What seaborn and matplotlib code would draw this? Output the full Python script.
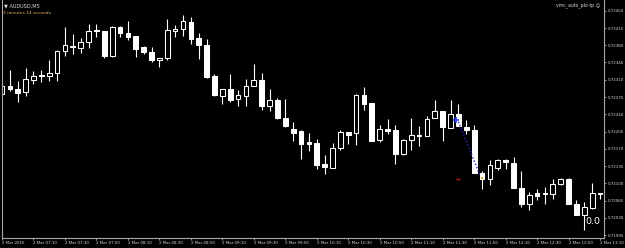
import matplotlib
matplotlib.use("Agg")
import matplotlib.pyplot as plt
import seaborn as sns
import numpy as np

# ---------------- data (AUDUSD, M5) ----------------
open_ = [0.72282, 0.72298, 0.72292, 0.72286, 0.72310, 0.72319, 0.72318, 0.72324, 0.72368, 0.72379,
         0.72374, 0.72388, 0.72411, 0.72409, 0.72359, 0.72418, 0.72405, 0.72399, 0.72376, 0.72367,
         0.72351, 0.72354, 0.72409, 0.72413, 0.72428, 0.72395, 0.72381, 0.72318, 0.72278, 0.72292,
         0.72271, 0.72278, 0.72298, 0.72310, 0.72258, 0.72269, 0.72233, 0.72211, 0.72206, 0.72184,
         0.72183, 0.72139, 0.72132, 0.72171, 0.72204, 0.72202, 0.72279, 0.72264, 0.72188, 0.72211,
         0.72208, 0.72159, 0.72188, 0.72197, 0.72197, 0.72233, 0.72248, 0.72213, 0.72240, 0.72215,
         0.72208, 0.72121, 0.72108, 0.72132, 0.72148, 0.72141, 0.72090, 0.72058, 0.72080, 0.72078,
         0.72078, 0.72098, 0.72109, 0.72058, 0.72036, 0.72051, 0.72080]

high = [0.72306, 0.72330, 0.72308, 0.72334, 0.72328, 0.72330, 0.72351, 0.72371, 0.72417, 0.72403,
        0.72396, 0.72423, 0.72423, 0.72410, 0.72420, 0.72420, 0.72430, 0.72399, 0.72378, 0.72376,
        0.72355, 0.72434, 0.72422, 0.72442, 0.72437, 0.72405, 0.72393, 0.72322, 0.72291, 0.72322,
        0.72290, 0.72311, 0.72342, 0.72324, 0.72291, 0.72273, 0.72271, 0.72225, 0.72208, 0.72202,
        0.72190, 0.72157, 0.72183, 0.72209, 0.72205, 0.72282, 0.72296, 0.72264, 0.72219, 0.72231,
        0.72219, 0.72190, 0.72232, 0.72217, 0.72237, 0.72269, 0.72248, 0.72269, 0.72261, 0.72228,
        0.72219, 0.72126, 0.72148, 0.72149, 0.72149, 0.72154, 0.72126, 0.72083, 0.72088, 0.72093,
        0.72109, 0.72112, 0.72110, 0.72066, 0.72063, 0.72100, 0.72081]

low = [0.72279, 0.72288, 0.72266, 0.72278, 0.72302, 0.72306, 0.72308, 0.72308, 0.72359, 0.72363,
       0.72365, 0.72374, 0.72398, 0.72355, 0.72357, 0.72397, 0.72391, 0.72357, 0.72363, 0.72347,
       0.72336, 0.72351, 0.72397, 0.72399, 0.72383, 0.72352, 0.72313, 0.72278, 0.72261, 0.72266,
       0.72257, 0.72258, 0.72297, 0.72249, 0.72247, 0.72231, 0.72215, 0.72187, 0.72149, 0.72166,
       0.72129, 0.72119, 0.72131, 0.72168, 0.72181, 0.72177, 0.72250, 0.72186, 0.72185, 0.72200,
       0.72139, 0.72158, 0.72168, 0.72176, 0.72196, 0.72232, 0.72187, 0.72212, 0.72217, 0.72200,
       0.72121, 0.72088, 0.72097, 0.72127, 0.72129, 0.72090, 0.72053, 0.72046, 0.72066, 0.72058,
       0.72068, 0.72097, 0.72058, 0.72036, 0.72006, 0.72048, 0.72068]

close = [0.72298, 0.72292, 0.72284, 0.72312, 0.72319, 0.72318, 0.72325, 0.72369, 0.72380, 0.72376,
         0.72388, 0.72409, 0.72409, 0.72359, 0.72418, 0.72405, 0.72397, 0.72373, 0.72367, 0.72351,
         0.72355, 0.72411, 0.72413, 0.72430, 0.72393, 0.72381, 0.72317, 0.72279, 0.72291, 0.72269,
         0.72279, 0.72298, 0.72309, 0.72258, 0.72269, 0.72233, 0.72216, 0.72202, 0.72181, 0.72181,
         0.72137, 0.72133, 0.72171, 0.72204, 0.72199, 0.72279, 0.72262, 0.72187, 0.72211, 0.72207,
         0.72159, 0.72189, 0.72198, 0.72199, 0.72230, 0.72248, 0.72215, 0.72240, 0.72217, 0.72208,
         0.72121, 0.72109, 0.72137, 0.72148, 0.72143, 0.72090, 0.72058, 0.72076, 0.72075, 0.72080,
         0.72098, 0.72109, 0.72058, 0.72036, 0.72052, 0.72080, 0.72079]

x_tick_labels = ["2 Mar 2016", "2 Mar 07:10", "2 Mar 07:30", "2 Mar 07:50", "2 Mar 08:10",
                 "2 Mar 08:30", "2 Mar 08:50", "2 Mar 09:10", "2 Mar 09:30", "2 Mar 09:50",
                 "2 Mar 10:10", "2 Mar 10:30", "2 Mar 10:50", "2 Mar 11:10", "2 Mar 11:30",
                 "2 Mar 11:50", "2 Mar 12:10", "2 Mar 12:30", "2 Mar 12:50", "2 Mar 13:10"]
bars_per_label = 4

y_ticks = [0.72450, 0.72415, 0.72380, 0.72346, 0.72310, 0.72275, 0.72240,
           0.72205, 0.72170, 0.72135, 0.72100, 0.72065, 0.72030, 0.71995]

# indicator overlay
trend_x = [58.0, 60.8]
trend_y = [0.72225, 0.72114]
entry_x, entry_y = [57.7], [0.72228]
target_x, target_y = [61.0], [0.72110]
stop_x, stop_y = [58.0], [0.72109]

# ---------------- style ----------------
sns.set_theme(style="dark", rc={"axes.facecolor": "black", "figure.facecolor": "black",
                                "axes.grid": False})
plt.rcParams["font.family"] = ["DejaVu Sans"]

W, H = 625, 248
fig = plt.figure(figsize=(W / 100, H / 100), dpi=100)
ax = fig.add_axes([2 / W, 10 / H, 602 / W, 238 / H])
ax.set_facecolor("black")

n = len(open_)
xs = np.arange(n)
o = np.array(open_); c = np.array(close); hi = np.array(high); lo = np.array(low)
bull = c > o

ax.vlines(xs, lo, hi, color="white", lw=0.8, zorder=1)
bottoms = np.minimum(o, c)
heights = np.maximum(np.abs(c - o), 0.000012)
face = np.where(bull, "black", "white")
ax.bar(xs, heights, bottom=bottoms, width=0.6, color=list(face),
       edgecolor="white", linewidth=0.75, zorder=2)

sns.lineplot(x=trend_x, y=trend_y, ax=ax, color="#2020d0", linestyle=(0, (1, 1.5)),
             lw=1.0, zorder=3)
sns.scatterplot(x=entry_x, y=entry_y, ax=ax, marker="+", color="#2a3cff", s=14,
                linewidth=1.2, zorder=4)
sns.scatterplot(x=target_x, y=target_y, ax=ax, marker="s", color="#f0a020", s=3,
                linewidth=0, zorder=4)
sns.scatterplot(x=stop_x, y=stop_y, ax=ax, marker="_", color="#d01010", s=12,
                linewidth=1.0, zorder=4)

ax.set_xlim(0, 76.5)
ax.set_ylim(0.719892, 0.724723)

ax.yaxis.tick_right()
ax.set_yticks(y_ticks)
ax.set_yticklabels([f"{v:.5f}" for v in y_ticks])
ax.set_xticks(np.arange(len(x_tick_labels)) * bars_per_label)
ax.set_xticklabels(x_tick_labels)
for lab in ax.get_xticklabels():
    lab.set_horizontalalignment("left")
ax.tick_params(axis="y", which="both", right=True, left=False, length=1.6, width=0.6,
               color="#b0b0b0", labelcolor="#d8d8d8", labelsize=2.9, pad=1.2)
ax.tick_params(axis="x", which="both", bottom=True, length=1.6, width=0.6,
               color="#b0b0b0", labelcolor="#d8d8d8", labelsize=2.9, pad=0.6)
ax.set_xlabel(""); ax.set_ylabel("")

for side in ["left", "right", "bottom"]:
    ax.spines[side].set_visible(True)
    ax.spines[side].set_color("#a8a8a8")
    ax.spines[side].set_linewidth(0.8)
ax.spines["top"].set_visible(False)

# header texts
fig.text(4 / W, 1 - 5.5 / H, "\u25bc AUDUSD,M5", color="#e0e0e0", fontsize=3.6,
         va="center", ha="left")
fig.text(3 / W, 1 - 12.5 / H, "3 minutes 14 seconds", color="#e8b060", fontsize=3.2,
         va="center", ha="left")
fig.text(601 / W, 1 - 5.5 / H, "vmc_auto_plo-tp \u263a", color="#d8d8d8", fontsize=3.3,
         va="center", ha="right")
fig.text(585 / W, 1 - 222 / H, "0.0", color="white", fontsize=6.8,
         va="center", ha="left")

fig.savefig("out.png", dpi=100, facecolor="black")
